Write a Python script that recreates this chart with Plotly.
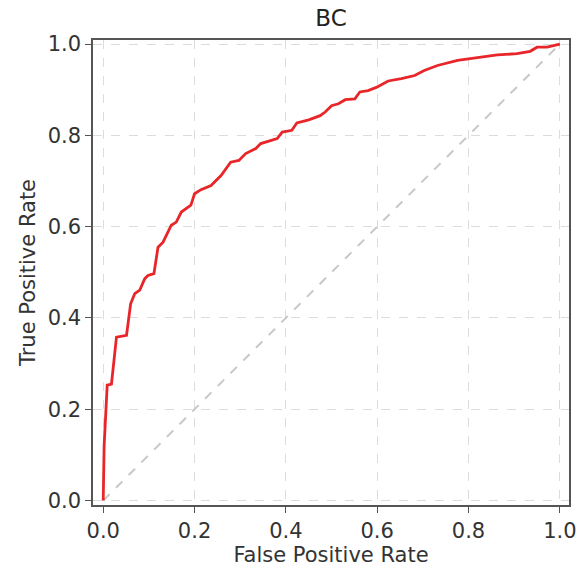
import plotly.graph_objects as go

fpr = [0.0, 0.002, 0.0087, 0.018, 0.029, 0.051, 0.060, 0.069, 0.080, 0.091, 0.098, 0.111,
       0.120, 0.131, 0.149, 0.160, 0.171, 0.192, 0.200, 0.214, 0.236, 0.258, 0.279, 0.297,
       0.312, 0.334, 0.345, 0.381, 0.392, 0.413, 0.424, 0.450, 0.475, 0.486, 0.500, 0.515,
       0.530, 0.551, 0.562, 0.580, 0.598, 0.624, 0.653, 0.682, 0.703, 0.732, 0.776, 0.834,
       0.863, 0.906, 0.935, 0.950, 0.972, 1.0]
tpr = [0.0, 0.12, 0.253, 0.255, 0.358, 0.362, 0.431, 0.453, 0.461, 0.486, 0.493, 0.497,
       0.555, 0.566, 0.603, 0.610, 0.632, 0.647, 0.672, 0.681, 0.690, 0.712, 0.741, 0.745,
       0.760, 0.771, 0.782, 0.793, 0.807, 0.811, 0.827, 0.834, 0.843, 0.851, 0.865, 0.869,
       0.878, 0.880, 0.895, 0.898, 0.905, 0.919, 0.924, 0.931, 0.942, 0.953, 0.964, 0.971,
       0.976, 0.979, 0.984, 0.993, 0.993, 1.0]
diag = [0.0, 1.0]
ticks = [0.0, 0.2, 0.4, 0.6, 0.8, 1.0]
tick_labels = ["0.0", "0.2", "0.4", "0.6", "0.8", "1.0"]

fig = go.Figure()
fig.add_trace(go.Scatter(x=diag, y=diag, mode="lines",
                         line=dict(color="#c8c8c8", width=2, dash="dash"),
                         showlegend=False, hoverinfo="skip"))
fig.add_trace(go.Scatter(x=fpr, y=tpr, mode="lines",
                         line=dict(color="#e8262a", width=2.8),
                         showlegend=False))

axis_common = dict(
    showline=True, linecolor="#555555", linewidth=1.5, mirror=True,
    ticks="outside", ticklen=6, tickcolor="#555555", tickwidth=1.2,
    showgrid=True, gridcolor="#dcdcdc", griddash="dash", gridwidth=1,
    zeroline=False, tickvals=ticks, ticktext=tick_labels,
    tickfont=dict(size=21, color="#333333"),
)
fig.update_xaxes(range=[-0.0224, 1.02], title=dict(text="False Positive Rate",
                 font=dict(size=21, color="#333333"), standoff=5), **axis_common)
fig.update_yaxes(range=[-0.0098, 1.0088], title=dict(text="True Positive Rate",
                 font=dict(size=21, color="#333333"), standoff=6), **axis_common)

fig.update_layout(
    width=583, height=570,
    margin=dict(l=93, r=7, t=40, b=65),
    paper_bgcolor="white", plot_bgcolor="white",
    font=dict(family="DejaVu Sans", color="#333333"),
    title=dict(text="BC", x=0.5, xref="paper", xanchor="center", y=0.968, yanchor="middle",
               font=dict(size=23, color="#222222")),
)
fig.write_html("out.html", config={"displayModeBar": False},
               post_script="document.body.style.margin='0';document.body.style.overflow='hidden';")
